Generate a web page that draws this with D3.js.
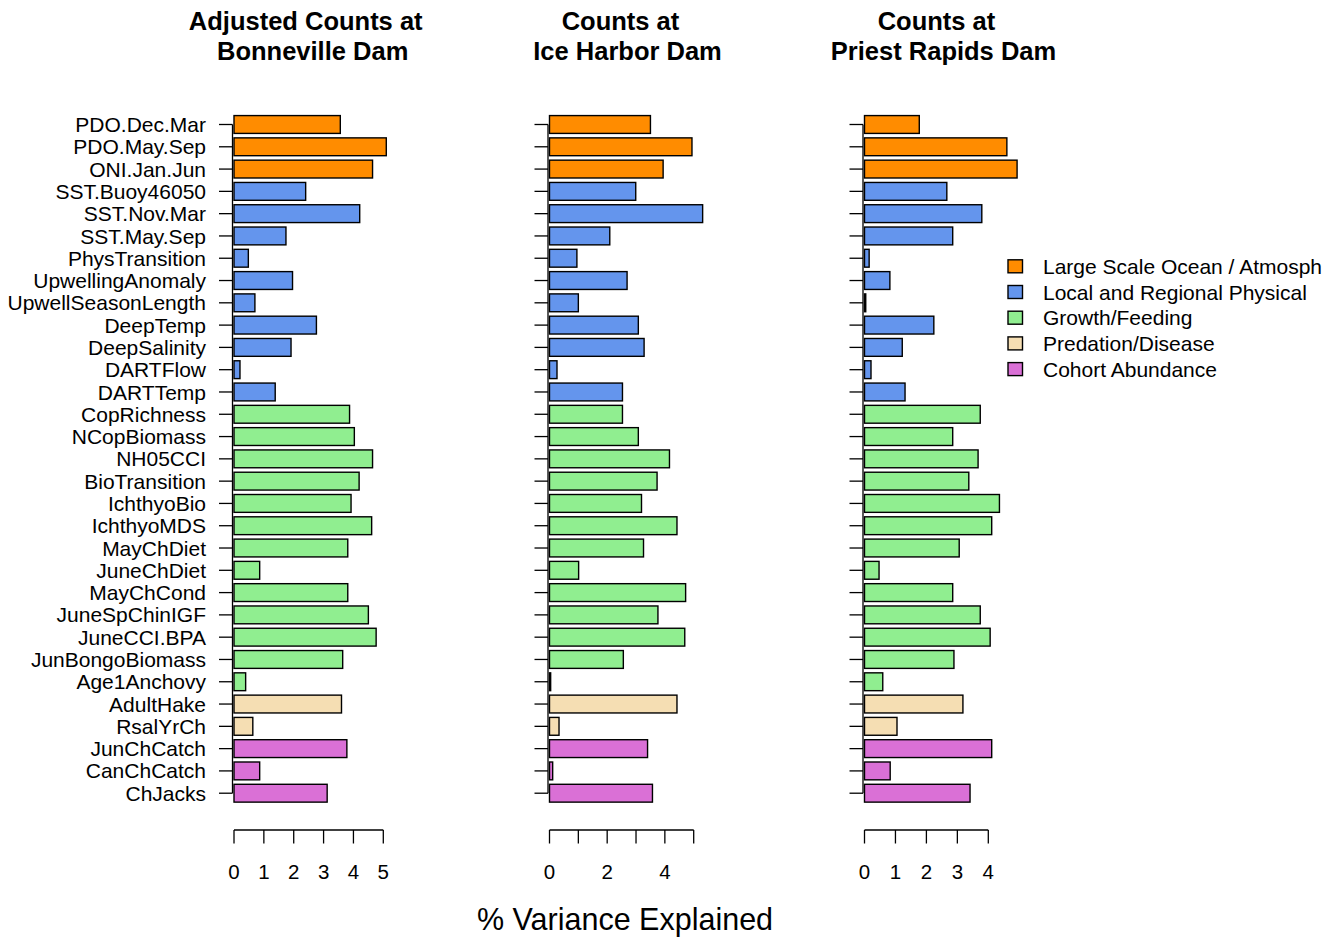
<!DOCTYPE html>
<html>
<head>
<meta charset="utf-8">
<script src="https://cdn.jsdelivr.net/npm/d3@7/dist/d3.min.js"></script>
<style>
  body { margin: 0; background: #fff; }
  text { font-family: "Liberation Sans", Arial, sans-serif; fill: #000; }
</style>
</head>
<body>
<div id="chart"></div>
<script>
// predictors, top to bottom
var predictors = ["PDO.Dec.Mar", "PDO.May.Sep", "ONI.Jan.Jun", "SST.Buoy46050", "SST.Nov.Mar",
  "SST.May.Sep", "PhysTransition", "UpwellingAnomaly", "UpwellSeasonLength", "DeepTemp",
  "DeepSalinity", "DARTFlow", "DARTTemp", "CopRichness", "NCopBiomass", "NH05CCI",
  "BioTransition", "IchthyoBio", "IchthyoMDS", "MayChDiet", "JuneChDiet", "MayChCond",
  "JuneSpChinIGF", "JuneCCI.BPA", "JunBongoBiomass", "Age1Anchovy", "AdultHake", "RsalYrCh",
  "JunChCatch", "CanChCatch", "ChJacks"];

// group index of each predictor
var predictorGroup = [0, 0, 0, 1, 1, 1, 1, 1, 1, 1, 1, 1, 1,
  2, 2, 2, 2, 2, 2, 2, 2, 2, 2, 2, 2, 2, 3, 3, 4, 4, 4];

var groupNames = ["Large Scale Ocean / Atmosph", "Local and Regional Physical",
  "Growth/Feeding", "Predation/Disease", "Cohort Abundance"];
var groupColors = ["#FF8C00", "#6495ED", "#90EE90", "#F5DEB3", "#DA70D6"];

// % variance explained
var bonneville = [3.56, 5.10, 4.64, 2.40, 4.21, 1.74, 0.48, 1.96, 0.70, 2.76, 1.91, 0.20, 1.38,
  3.87, 4.03, 4.64, 4.19, 3.92, 4.61, 3.81, 0.86, 3.81, 4.50, 4.76, 3.64, 0.39,
  3.60, 0.63, 3.78, 0.86, 3.12];
var iceHarbor = [3.50, 4.94, 3.94, 2.99, 5.31, 2.09, 0.95, 2.69, 1.00, 3.08, 3.28, 0.26, 2.53,
  2.53, 3.08, 4.16, 3.73, 3.19, 4.42, 3.26, 1.01, 4.72, 3.76, 4.69, 2.56, 0.04,
  4.42, 0.33, 3.40, 0.11, 3.57];
var priestRapids = [1.77, 4.60, 4.93, 2.66, 3.79, 2.85, 0.15, 0.82, 0.04, 2.24, 1.22, 0.21, 1.31,
  3.74, 2.85, 3.67, 3.37, 4.36, 4.11, 3.06, 0.47, 2.85, 3.74, 4.06, 2.89, 0.59,
  3.18, 1.05, 4.11, 0.83, 3.41];

var ticksBonneville = [0, 1, 2, 3, 4, 5];
var tickLabelsBonneville = ["0", "1", "2", "3", "4", "5"];
var ticksIceHarbor = [0, 1, 2, 3, 4, 5];
var tickLabelsIceHarbor = ["0", "", "2", "", "4", ""];
var ticksPriestRapids = [0, 1, 2, 3, 4];
var tickLabelsPriestRapids = ["0", "1", "2", "3", "4"];

var titleBonneville = ["Adjusted Counts at", "Bonneville Dam"];
var titleIceHarbor = ["Counts at", "Ice Harbor Dam"];
var titlePriestRapids = ["Counts at", "Priest Rapids Dam"];

var xTitle = "% Variance Explained";

(function() {
  var width = 1336, height = 937;

  var svg = d3.select('#chart').append('svg')
    .attr('width', width)
    .attr('height', height);

  // layout of the three panels (pixel range of the first and last tick)
  var panels = [
    { values: bonneville, ticks: ticksBonneville, tickLabels: tickLabelsBonneville,
      title: titleBonneville, range: [234, 383.3], titleX: 312.7, showNames: true },
    { values: iceHarbor, ticks: ticksIceHarbor, tickLabels: tickLabelsIceHarbor,
      title: titleIceHarbor, range: [549.5, 693.7], titleX: 627.5, showNames: false },
    { values: priestRapids, ticks: ticksPriestRapids, tickLabels: tickLabelsPriestRapids,
      title: titlePriestRapids, range: [864.5, 988.3], titleX: 943.5, showNames: false }
  ];

  var y = d3.scaleBand()
    .domain(predictors)
    .range([113.35, 804.35])
    .paddingInner(0.2)
    .paddingOuter(0.1);

  var axisY = 830;
  var tickLen = 13.5;

  panels.forEach(function(p) {
    var ticks = p.ticks;
    var x = d3.scaleLinear()
      .domain([ticks[0], ticks[ticks.length - 1]])
      .range(p.range);

    var g = svg.append('g');

    // bars
    g.selectAll('rect')
      .data(p.values)
      .enter()
      .append('rect')
      .attr('x', x(0))
      .attr('y', function(d, i) { return y(predictors[i]); })
      .attr('width', function(d) { return x(d) - x(0); })
      .attr('height', y.bandwidth())
      .attr('fill', function(d, i) { return groupColors[predictorGroup[i]]; })
      .attr('stroke', '#000')
      .attr('stroke-width', 1.4);

    // left axis: line from first to last tick, ticks pointing left
    var ax = x(0) - 1.5;
    var firstC = y(predictors[0]) + y.bandwidth() / 2;
    var lastC = y(predictors[predictors.length - 1]) + y.bandwidth() / 2;
    g.append('line')
      .attr('x1', ax).attr('x2', ax)
      .attr('y1', firstC).attr('y2', lastC)
      .attr('stroke', '#000').attr('stroke-width', 1.3);
    g.selectAll('line.ytick')
      .data(predictors)
      .enter()
      .append('line')
      .attr('class', 'ytick')
      .attr('x1', ax - tickLen).attr('x2', ax)
      .attr('y1', function(d) { return y(d) + y.bandwidth() / 2; })
      .attr('y2', function(d) { return y(d) + y.bandwidth() / 2; })
      .attr('stroke', '#000').attr('stroke-width', 1.3);

    if (p.showNames) {
      g.selectAll('text.yname')
        .data(predictors)
        .enter()
        .append('text')
        .attr('class', 'yname')
        .attr('x', ax - tickLen - 13)
        .attr('y', function(d) { return y(d) + y.bandwidth() / 2; })
        .attr('dy', '0.36em')
        .attr('text-anchor', 'end')
        .style('font-size', '21px')
        .text(function(d) { return d; });
    }

    // bottom axis
    g.append('line')
      .attr('x1', x(ticks[0])).attr('x2', x(ticks[ticks.length - 1]))
      .attr('y1', axisY).attr('y2', axisY)
      .attr('stroke', '#000').attr('stroke-width', 1.3);
    g.selectAll('line.xtick')
      .data(ticks)
      .enter()
      .append('line')
      .attr('class', 'xtick')
      .attr('x1', function(d) { return x(d); })
      .attr('x2', function(d) { return x(d); })
      .attr('y1', axisY).attr('y2', axisY + tickLen)
      .attr('stroke', '#000').attr('stroke-width', 1.3);
    g.selectAll('text.xlab')
      .data(ticks)
      .enter()
      .append('text')
      .attr('class', 'xlab')
      .attr('x', function(d) { return x(d); })
      .attr('y', 879)
      .attr('text-anchor', 'middle')
      .style('font-size', '20.5px')
      .text(function(d, i) { return p.tickLabels[i]; });

    // title, two lines; first line sits a bit left as in the original
    g.selectAll('text.title')
      .data(p.title)
      .enter()
      .append('text')
      .attr('class', 'title')
      .attr('x', function(d, i) { return i == 0 ? p.titleX - 7 : p.titleX; })
      .attr('y', function(d, i) { return 29.5 + i * 30; })
      .attr('text-anchor', 'middle')
      .style('font-size', '25.5px')
      .style('font-weight', 'bold')
      .text(function(d) { return d; });
  });

  // x axis title
  svg.append('text')
    .attr('x', 625)
    .attr('y', 930)
    .attr('text-anchor', 'middle')
    .style('font-size', '30.5px')
    .text(xTitle);

  // legend
  var legend = svg.append('g').attr('transform', 'translate(1008,266.3)');
  var rowH = 25.7;
  legend.selectAll('rect')
    .data(groupNames)
    .enter()
    .append('rect')
    .attr('x', 0)
    .attr('y', function(d, i) { return i * rowH - 6.5; })
    .attr('width', 14.5)
    .attr('height', 13)
    .attr('fill', function(d, i) { return groupColors[i]; })
    .attr('stroke', '#000')
    .attr('stroke-width', 1.4);
  legend.selectAll('text')
    .data(groupNames)
    .enter()
    .append('text')
    .attr('x', 35)
    .attr('y', function(d, i) { return i * rowH; })
    .attr('dy', '0.36em')
    .style('font-size', '21px')
    .text(function(d) { return d; });
})();
</script>
</body>
</html>
